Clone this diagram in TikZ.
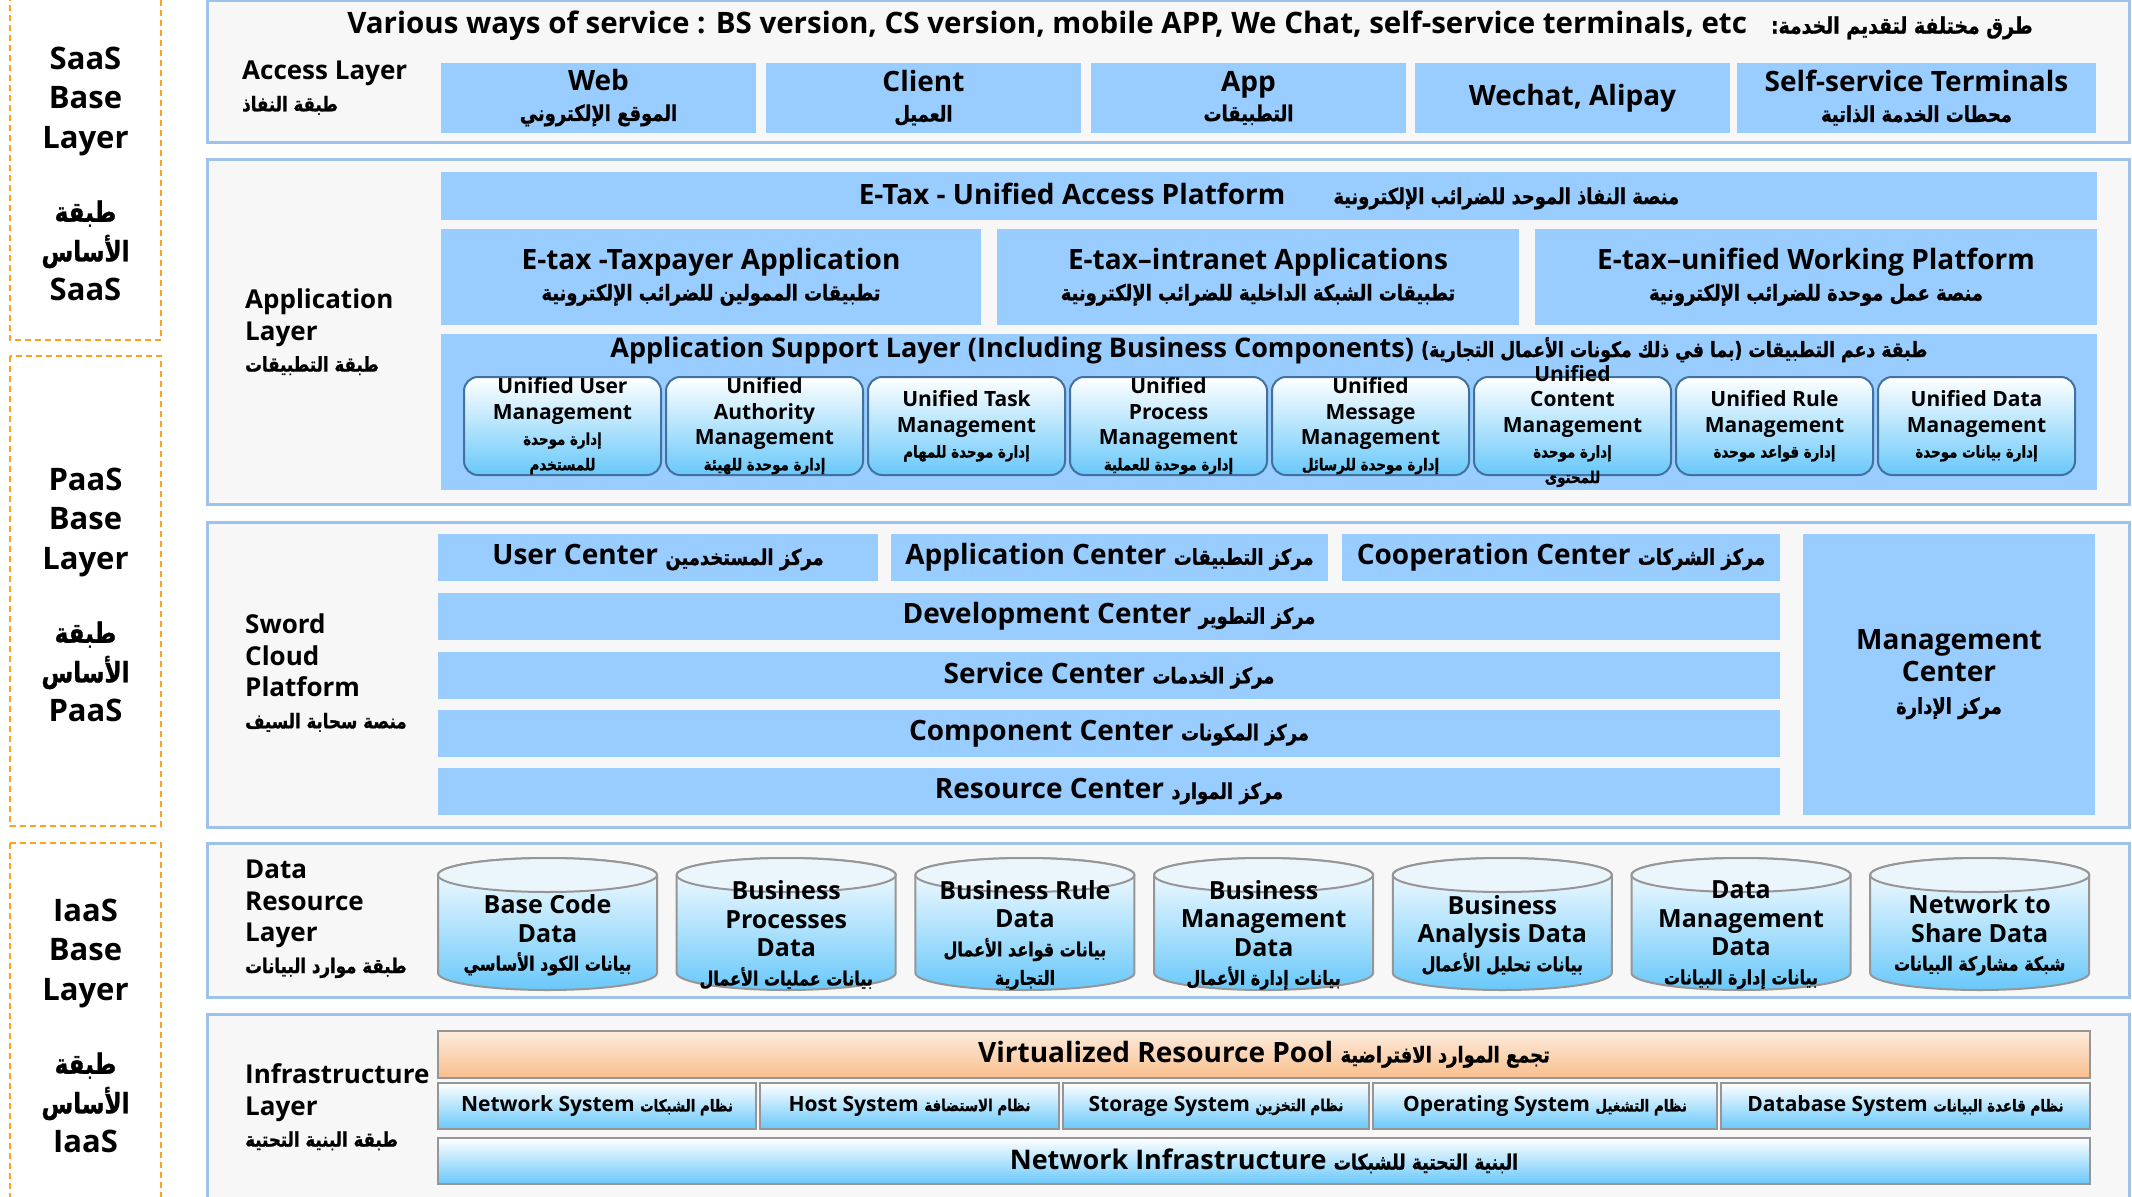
\documentclass[tikz,border=0pt]{standalone}
\usepackage{fontspec}
\setmainfont{Open Sans}
\newfontfamily\arabicfont[Script=Arabic,Scale=0.78,FakeStretch=0.82,BoldFeatures={FakeBold=1}]{DejaVu Sans}
\TeXXeTstate=1
\usetikzlibrary{positioning}
\definecolor{framebg}{RGB}{247,247,247}
\definecolor{framebd}{RGB}{157,195,235}
\definecolor{barblue}{RGB}{153,204,255}
\definecolor{compblue}{RGB}{105,200,250}
\definecolor{compbd}{RGB}{65,113,156}
\definecolor{dashorange}{RGB}{255,160,30}
\definecolor{poolpeach}{RGB}{253,236,222}
\definecolor{poolorange}{RGB}{249,190,140}
\definecolor{greybd}{RGB}{150,150,150}
\definecolor{cyltop}{RGB}{235,245,252}

\newcommand{\ar}[1]{{\arabicfont\beginR #1\endR}}
\newcommand{\fsz}[2]{\fontsize{#1}{#2}\selectfont}

\tikzset{
  layerframe/.style={draw=framebd, line width=3pt, fill=framebg},
  baselayer/.style={draw=dashorange, line width=1.5pt, dash pattern=on 6pt off 4pt},
  baselabel/.style={align=center, font=\bfseries\fsz{31}{39.5}},
  layerlabel/.style={anchor=west, align=left, inner sep=0pt, font=\bfseries\fsz{26}{31.5}},
  boxbase/.style={inner sep=0pt, outer sep=0pt, anchor=north west, align=center},
  flatbar/.style={boxbase, fill=barblue, font=\bfseries\fsz{28}{30}},
  compbox/.style={boxbase, draw=compbd, line width=2pt, rounded corners=14pt,
    top color=white, bottom color=compblue, minimum width=197, minimum height=98},
  comptext/.style={align=center, inner sep=0pt, font=\bfseries\fsz{21}{25.5}},
  systembox/.style={boxbase, draw=greybd, line width=1.5pt,
    top color=white, bottom color=compblue, minimum height=46},
  cyltext/.style={align=center, inner sep=0pt, font=\bfseries\fsz{25}{28.5}}
}

\begin{document}
\begin{tikzpicture}[x=1pt, y=-1pt]
\useasboundingbox (0,0) rectangle (2132,1196);
\fill[white] (0,0) rectangle (2132,1196);

% Base layers on the left
\draw[baselayer] (10,-5) rectangle (161,340);
\draw[baselayer] (10,356) rectangle (161,826);
\draw[baselayer] (10,843) rectangle (161,1210);
\node[baselabel] (saas) at (85.5,174) {SaaS\\Base\\Layer\\[34pt]{\fsz{36}{39.5}\ar{طبقة}}\\{\fsz{36}{39.5}\ar{الأساس}}\\SaaS};
\node[baselabel] (paas) at (85.5,595) {PaaS\\Base\\Layer\\[34pt]{\fsz{36}{39.5}\ar{طبقة}}\\{\fsz{36}{39.5}\ar{الأساس}}\\PaaS};
\node[baselabel] (iaas) at (85.5,1026) {IaaS\\Base\\Layer\\[34pt]{\fsz{36}{39.5}\ar{طبقة}}\\{\fsz{36}{39.5}\ar{الأساس}}\\IaaS};

% Access layer
\draw[layerframe] (207,1) rectangle (2129,142);
\node[font=\bfseries\fsz{29.5}{32}, inner sep=0pt] (service) at (1190,26)
  {Various ways of service : BS version, CS version, mobile APP, We Chat, self-service terminals, etc\hspace{24pt}\ar{طرق مختلفة لتقديم الخدمة:}};
\node[layerlabel] (accesslbl) at (242,88) {Access Layer\\\ar{طبقة النفاذ}};
\foreach \x/\w/\nm/\txt in {
    441/315/web/{Web\\\ar{الموقع الإلكتروني}},
    766/315/client/{Client\\\ar{العميل}},
    1091/315/app/{App\\\ar{التطبيقات}},
    1415/315/wechat/{Wechat, Alipay},
    1737/359/terminal/{Self-service Terminals\\\ar{محطات الخدمة الذاتية}}}
  \node[flatbar, minimum width=\w, minimum height=70] (\nm) at (\x,63) {\txt};

% Application layer
\draw[layerframe] (207,159) rectangle (2129,504);
\node[layerlabel] (applbl) at (245,332) {Application\\Layer\\\ar{طبقة التطبيقات}};
\node[flatbar, minimum width=1656, minimum height=48] (etax) at (441,172)
  {E-Tax - Unified Access Platform\hspace{48pt}\ar{منصة النفاذ الموحد للضرائب الإلكترونية}};
\node[flatbar, minimum width=540, minimum height=96, font=\bfseries\fsz{28}{31}] (taxpayer) at (441,229)
  {E-tax -Taxpayer Application\\\ar{تطبيقات الممولين للضرائب الإلكترونية}};
\node[flatbar, minimum width=522, minimum height=96, font=\bfseries\fsz{28}{31}] (intranet) at (997,229)
  {E-tax–intranet Applications\\\ar{تطبيقات الشبكة الداخلية للضرائب الإلكترونية}};
\node[flatbar, minimum width=562, minimum height=96, font=\bfseries\fsz{28}{31}] (working) at (1535,229)
  {E-tax–unified Working Platform\\\ar{منصة عمل موحدة للضرائب الإلكترونية}};
\node[flatbar, minimum width=1656, minimum height=156] (support) at (441,334) {};
\node[font=\bfseries\fsz{27}{30}, inner sep=0pt] (supporttitle) at (1269,350)
  {Application Support Layer (Including Business Components) \ar{طبقة دعم التطبيقات (بما في ذلك مكونات الأعمال التجارية)}};
\foreach \i/\txt in {
    1/{Unified User\\Management\\\ar{إدارة موحدة}\\\ar{للمستخدم}},
    2/{Unified\\Authority\\Management\\\ar{إدارة موحدة للهيئة}},
    3/{Unified Task\\Management\\\ar{إدارة موحدة للمهام}},
    4/{Unified\\Process\\Management\\\ar{إدارة موحدة للعملية}},
    5/{Unified\\Message\\Management\\\ar{إدارة موحدة للرسائل}},
    6/{Unified\\Content\\Management\\\ar{إدارة موحدة}\\\ar{للمحتوى}},
    7/{Unified Rule\\Management\\\ar{إدارة قواعد موحدة}},
    8/{Unified Data\\Management\\\ar{إدارة بيانات موحدة}}} {
  \node[compbox] (comp\i) at ({464+(\i-1)*202},377) {};
  \node[comptext] (complbl\i) at (comp\i.center) {\txt};
}

% Sword cloud platform
\draw[layerframe] (207,522) rectangle (2129,827);
\node[layerlabel] (swordlbl) at (245,673) {Sword\\Cloud\\Platform\\\ar{منصة سحابة السيف}};
\node[flatbar, minimum width=440, minimum height=47] (usercenter) at (438,534) {User Center \ar{مركز المستخدمين}};
\node[flatbar, minimum width=437, minimum height=47] (appcenter) at (891,534) {Application Center \ar{مركز التطبيقات}};
\node[flatbar, minimum width=438, minimum height=47] (coopcenter) at (1342,534) {Cooperation Center \ar{مركز الشركات}};
\foreach \y/\nm/\txt in {
    593/devcenter/{Development Center \ar{مركز التطوير}},
    652/servcenter/{Service Center \ar{مركز الخدمات}},
    710/compcenter/{Component Center \ar{مركز المكونات}},
    768/rescenter/{Resource Center \ar{مركز الموارد}}}
  \node[flatbar, minimum width=1342, minimum height=47] (\nm) at (438,\y) {\txt};
\node[flatbar, minimum width=292, minimum height=281, font=\bfseries\fsz{28}{32}] (mgmtcenter) at (1803,534)
  {Management\\Center\\\ar{مركز الإدارة}};

% Data resource layer
\draw[layerframe] (207,843) rectangle (2129,997);
\node[layerlabel] (datalbl) at (245,919) {Data\\Resource\\Layer\\\ar{طبقة موارد البيانات}};
\foreach \i/\txt in {
    1/{Base Code\\Data\\\ar{بيانات الكود الأساسي}},
    2/{Business\\Processes\\Data\\\ar{بيانات عمليات الأعمال}},
    3/{Business Rule\\Data\\\ar{بيانات قواعد الأعمال}\\\ar{التجارية}},
    4/{Business\\Management\\Data\\\ar{بيانات إدارة الأعمال}},
    5/{Business\\Analysis Data\\\ar{بيانات تحليل الأعمال}},
    6/{Data\\Management\\Data\\\ar{بيانات إدارة البيانات}},
    7/{Network to\\Share Data\\\ar{شبكة مشاركة البيانات}}} {
  \pgfmathsetmacro{\cx}{547.5+238.7*(\i-1)}
  \shade[top color=white, bottom color=compblue, draw=greybd, line width=2pt]
    (\cx-109.5,875) -- (\cx-109.5,973) arc(180:0:109.5 and 17) -- (\cx+109.5,875) arc(0:-180:109.5 and 17) -- cycle;
  \draw[greybd, line width=2pt, fill=cyltop] (\cx,875) ellipse (109.5 and 17);
  \node[cyltext] (data\i) at (\cx,935) {\txt};
}

% Infrastructure layer
\draw[layerframe] (207,1014) rectangle (2129,1210);
\node[layerlabel] (infralbl) at (245,1107) {Infrastructure\\Layer\\\ar{طبقة البنية التحتية}};
\node[boxbase, draw=greybd, line width=1.5pt, top color=poolpeach, bottom color=poolorange,
  minimum width=1652, minimum height=47, font=\bfseries\fsz{28}{30}] (pool) at (438,1031)
  {Virtualized Resource Pool \ar{تجمع الموارد الافتراضية}};
\foreach \x/\w/\nm/\txt in {
    438/318/netsys/{Network System \ar{نظام الشبكات}},
    760/299/hostsys/{Host System \ar{نظام الاستضافة}},
    1063/306/storsys/{Storage System \ar{نظام التخزين}},
    1373/344/opsys/{Operating System \ar{نظام التشغيل}},
    1721/369/dbsys/{Database System \ar{نظام قاعدة البيانات}}}
  \node[systembox, minimum width=\w, font=\bfseries\fsz{21}{26}] (\nm) at (\x,1083) {\txt};
\node[systembox, minimum width=1652, font=\bfseries\fsz{27}{30}] (netinfra) at (438,1138)
  {Network Infrastructure \ar{البنية التحتية للشبكات}};
\end{tikzpicture}
\end{document}
